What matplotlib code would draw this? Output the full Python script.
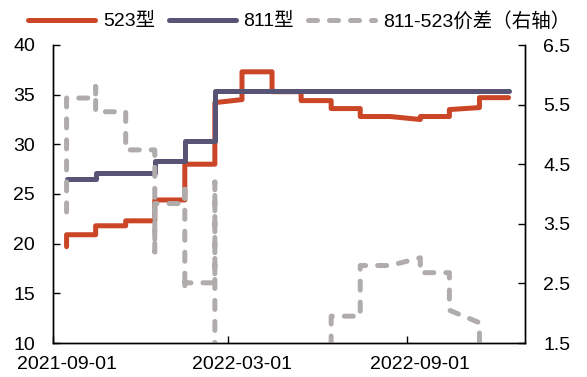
import matplotlib
matplotlib.use("Agg")
import matplotlib.pyplot as plt
import matplotlib.dates as mdates
import matplotlib.transforms as mtransforms
from matplotlib.ticker import FormatStrFormatter
import pandas as pd

plt.rcParams['font.family'] = ['Liberation Sans', 'Noto Sans CJK SC']
plt.rcParams['font.size'] = 14

# ---------------- data ----------------
series_names = ['523型', '811型', '811-523价差（右轴）']

red_dates = ['2021-09-15', '2021-09-15', '2021-10-15', '2021-10-15', '2021-11-15', '2021-11-15',
             '2021-12-15', '2021-12-15', '2022-01-15', '2022-01-15', '2022-02-15', '2022-02-15',
             '2022-03-15', '2022-03-15', '2022-04-15', '2022-04-15', '2022-05-15', '2022-05-15',
             '2022-06-15', '2022-06-15', '2022-07-15', '2022-07-15', '2022-08-15', '2022-09-15',
             '2022-09-15', '2022-10-15', '2022-10-15', '2022-11-15', '2022-11-15', '2022-12-15']
red_values = [19.7, 20.9, 20.9, 21.8, 21.8, 22.3,
              22.3, 24.4, 24.4, 28.0, 28.0, 34.2,
              34.5, 37.3, 37.3, 35.3, 35.3, 34.4,
              34.4, 33.6, 33.6, 32.8, 32.8, 32.5,
              32.8, 32.8, 33.5, 33.7, 34.7, 34.7]

blue_dates = ['2021-09-15', '2021-10-15', '2021-10-15', '2021-12-15', '2021-12-15',
              '2022-01-15', '2022-01-15', '2022-02-15', '2022-02-15', '2022-12-15']
blue_values = [26.5, 26.5, 27.1, 27.1, 28.3,
               28.3, 30.3, 30.3, 35.4, 35.4]

gray_dates = ['2021-09-15', '2021-09-15', '2021-10-15', '2021-10-15', '2021-10-15',
              '2021-11-15', '2021-11-15', '2021-12-15', '2021-12-15', '2021-12-15',
              '2022-01-15', '2022-01-15', '2022-01-15', '2022-01-15', '2022-02-15',
              '2022-02-15', '2022-02-15', '2022-03-15', '2022-03-15', '2022-04-15',
              '2022-04-15', '2022-05-15', '2022-05-15', '2022-06-15', '2022-06-15',
              '2022-07-15', '2022-07-15', '2022-08-15', '2022-09-15', '2022-09-15',
              '2022-10-15', '2022-10-15', '2022-11-15', '2022-11-15', '2022-12-15']
gray_values = [3.70, 5.61, 5.61, 5.80, 5.38,
               5.38, 4.74, 4.74, 3.03, 3.84,
               3.84, 4.18, 2.39, 2.51, 2.51,
               4.20, 1.20, 0.90, -1.90, -1.90,
               0.10, 0.10, 1.00, 1.00, 1.95,
               1.95, 2.80, 2.80, 2.93, 2.68,
               2.68, 2.05, 1.84, 0.70, 0.70]

left_ticks = [10, 15, 20, 25, 30, 35, 40]
right_ticks = [1.5, 2.5, 3.5, 4.5, 5.5, 6.5]
x_ticks = ['2021-09-01', '2022-03-01', '2022-09-01']
x_range = ['2021-09-01', '2023-01-01']

RED = '#CB4527'
BLUE = '#585475'
GRAY = '#B0ACAC'

# ---------------- figure ----------------
fig = plt.figure(figsize=(5.87, 3.77), dpi=100)
ax = fig.add_axes([53 / 587, 34 / 377, 472 / 587, 298 / 377])
ax2 = ax.twinx()

l1, = ax.plot(pd.to_datetime(red_dates), red_values, color=RED, lw=3.6,
              solid_capstyle='round', solid_joinstyle='round')
l2, = ax.plot(pd.to_datetime(blue_dates), blue_values, color=BLUE, lw=3.6,
              solid_capstyle='round', solid_joinstyle='round')
l3, = ax2.plot(pd.to_datetime(gray_dates), gray_values, color=GRAY, lw=3.6,
               linestyle=(0, (1.8, 2.4)), dash_capstyle='round', dash_joinstyle='round')

ax.set_xlim(pd.Timestamp(x_range[0]), pd.Timestamp(x_range[1]))
ax.set_ylim(left_ticks[0], left_ticks[-1])
ax.set_yticks(left_ticks)
ax2.set_ylim(right_ticks[0], right_ticks[-1])
ax2.set_yticks(right_ticks)
ax2.yaxis.set_major_formatter(FormatStrFormatter('%.1f'))

ax.set_xticks(pd.to_datetime(x_ticks))
ax.xaxis.set_major_formatter(mdates.DateFormatter('%Y-%m-%d'))

for a in (ax, ax2):
    a.spines['top'].set_visible(False)
    for s in a.spines.values():
        s.set_linewidth(1.0)
        s.set_color('black')

ax.tick_params(axis='y', direction='in', length=5, width=1, pad=13, labelsize=14)
ax.tick_params(axis='x', direction='in', length=5, width=1, pad=9.5, labelsize=14)
ax2.tick_params(axis='y', direction='in', length=5, width=1, pad=13, labelsize=14)

offset = mtransforms.ScaledTranslation(0.135, 0, fig.dpi_scale_trans)
for t in ax.xaxis.get_major_ticks():
    t.label1.set_transform(t.label1.get_transform() + offset)

fig.legend([l1, l2, l3], series_names, loc='center', bbox_to_anchor=(299 / 587, 1 - 21 / 377),
           ncol=3, frameon=False, handlelength=3.45, handletextpad=0.4, columnspacing=0.7,
           fontsize=14, borderpad=0, borderaxespad=0)

fig.savefig('out.png', dpi=100)
